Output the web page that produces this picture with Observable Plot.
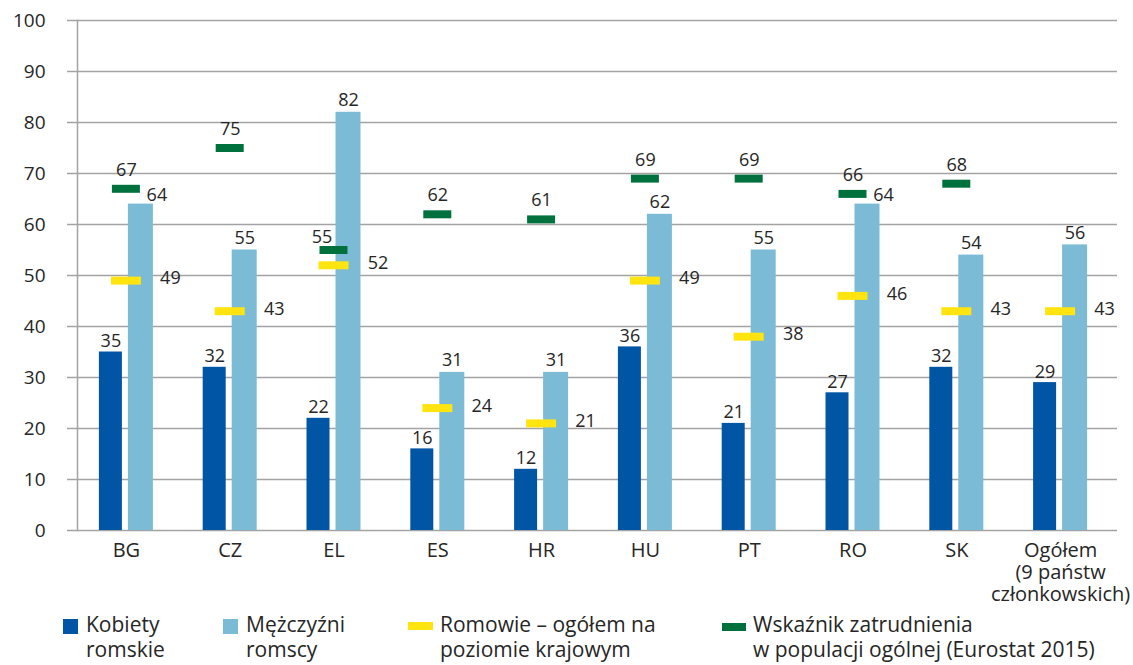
<!DOCTYPE html>
<html>
<head>
<meta charset="utf-8">
<script src="https://cdn.jsdelivr.net/npm/d3@7"></script>
<script src="https://cdn.jsdelivr.net/npm/@observablehq/plot@0.6"></script>
<style>
  body { margin: 0; background: #fff; font-family: "Open Sans", sans-serif; color: #262626; }
  #wrap { position: relative; width: 1133px; height: 665px; overflow: hidden; }
  #chart svg { display: block; }
  .leg { position: absolute; top: 612px; font-size: 21px; line-height: 25px; white-space: nowrap; }
  .sw { position: absolute; }
</style>
</head>
<body>
<div id="wrap">
  <div id="chart"></div>
  <div id="legend"></div>
</div>
<script>
// ---- data ----
const categories = ["BG", "CZ", "EL", "ES", "HR", "HU", "PT", "RO", "SK", "Ogółem\n(9 państw\nczłonkowskich)"];
const women = [35, 32, 22, 16, 12, 36, 21, 27, 32, 29];
const men = [64, 55, 82, 31, 31, 62, 55, 64, 54, 56];
const romaTotal = [49, 43, 52, 24, 21, 49, 38, 46, 43, 43];
const generalPop = [67, 75, 55, 62, 61, 69, 69, 66, 68, null];
const yTicks = [0, 10, 20, 30, 40, 50, 60, 70, 80, 90, 100];
const seriesNames = ["Kobiety\nromskie", "Mężczyźni\nromscy", "Romowie – ogółem na\npoziomie krajowym", "Wskaźnik zatrudnienia\nw populacji ogólnej (Eurostat 2015)"];
const seriesColors = ["#0055a4", "#7bbbd6", "#ffe40f", "#00703c"];

const rows = categories.map((c, i) => ({cat: c, women: women[i], men: men[i], roma: romaTotal[i], general: generalPop[i]}));
const withGeneral = rows.filter(d => d.general != null);
const textColor = "#262626";
const gridColor = "#a3a3a3";

const chart = Plot.plot({
  width: 1133,
  height: 612,
  marginLeft: 77,
  marginRight: 16,
  marginTop: 20,
  marginBottom: 82,
  style: {fontFamily: "Open Sans, sans-serif", background: "#fff"},
  x: {type: "band", domain: categories, range: [74, 1112], padding: 0, round: false},
  y: {domain: [0, 100]},
  marks: [
    Plot.gridY(yTicks, {stroke: gridColor, strokeOpacity: 1, strokeWidth: 1.5}),
    Plot.axisY({ticks: yTicks, tickSize: 10, tickPadding: 22, stroke: gridColor, strokeWidth: 1.5, fill: textColor, fontSize: 19, label: null}),
    Plot.axisX({tickSize: 0, tickPadding: 11, fontSize: 20, fill: textColor, lineHeight: 1.1, label: null}),
    Plot.barY(rows, {x: "cat", y: "women", fill: seriesColors[0], insetLeft: 24.9, insetRight: 55.9}),
    Plot.barY(rows, {x: "cat", y: "men", fill: seriesColors[1], insetLeft: 53.9, insetRight: 24.9}),
    Plot.frame({anchor: "left", stroke: gridColor, strokeWidth: 1.5}),
    Plot.tickY(rows, {x: "cat", y: "roma", stroke: seriesColors[2], strokeWidth: 8, insetLeft: 36.9, insetRight: 36.9}),
    Plot.tickY(withGeneral, {x: "cat", y: "general", stroke: seriesColors[3], strokeWidth: 8, insetLeft: 37.9, insetRight: 37.9}),
    // value labels
    Plot.text(rows, {x: "cat", y: "women", text: d => String(d.women), dx: -15.5, dy: -5, lineAnchor: "bottom", fontSize: 18, fill: textColor}),
    Plot.text(rows.filter(d => !(d.general != null && d.general > d.men && d.general - d.men < 5)),
      {x: "cat", y: "men", text: d => String(d.men), dx: 14.5, dy: -6, lineAnchor: "bottom", fontSize: 18, fill: textColor}),
    Plot.text(rows.filter(d => d.general != null && d.general > d.men && d.general - d.men < 5),
      {x: "cat", y: "men", text: d => String(d.men), dx: 30.5, dy: -3, lineAnchor: "bottom", fontSize: 18, fill: textColor}),
    Plot.text(rows, {x: "cat", y: "roma", text: d => String(d.roma), dx: 44, dy: -2, lineAnchor: "middle", fontSize: 18, fill: textColor}),
    Plot.text(withGeneral.filter(d => d.general >= d.men), {x: "cat", y: "general", text: d => String(d.general), dy: -13, lineAnchor: "bottom", fontSize: 18, fill: textColor}),
    Plot.text(withGeneral.filter(d => d.general < d.men), {x: "cat", y: "general", text: d => String(d.general), dx: -12, dy: -7, lineAnchor: "bottom", fontSize: 18, fill: textColor})
  ]
});
document.getElementById("chart").appendChild(chart);

// ---- legend ----
const legendItems = [
  {sw: {left: 63, top: 619, width: 15, height: 15}, textLeft: 86},
  {sw: {left: 223, top: 619, width: 15, height: 15}, textLeft: 246},
  {sw: {left: 408, top: 622, width: 25, height: 8}, textLeft: 440},
  {sw: {left: 722, top: 623, width: 24, height: 8}, textLeft: 753}
];
const legend = document.getElementById("legend");
legendItems.forEach((it, i) => {
  const s = document.createElement("div");
  s.className = "sw";
  Object.assign(s.style, {left: it.sw.left + "px", top: it.sw.top + "px", width: it.sw.width + "px", height: it.sw.height + "px", background: seriesColors[i]});
  legend.appendChild(s);
  const t = document.createElement("div");
  t.className = "leg";
  t.style.left = it.textLeft + "px";
  t.innerHTML = seriesNames[i].split("\n").join("<br>");
  legend.appendChild(t);
});
</script>
</body>
</html>
